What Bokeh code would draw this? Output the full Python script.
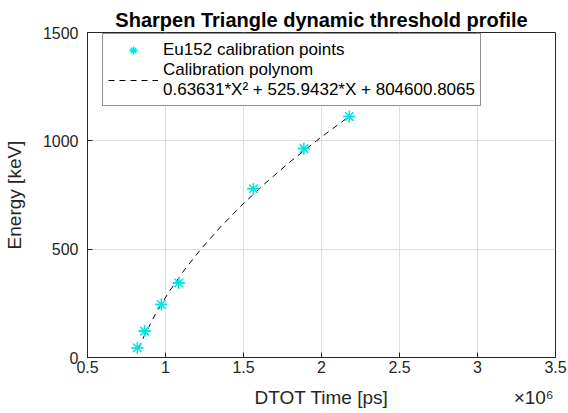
from bokeh.plotting import figure
from bokeh.models import Range1d, Legend, LegendItem, FixedTicker, LinearAxis
from bokeh.embed import file_html
from bokeh.resources import INLINE

# Calibration points (DTOT time in ps, energy in keV)
point_time = [0.819e6, 0.866e6, 0.973e6, 1.085e6, 1.563e6, 1.887e6, 2.178e6]
point_energy = [45, 121.78, 244.7, 344.28, 778.9, 964.1, 1112.1]

# Calibration polynomial curve
curve_energy = [40, 100, 200, 300, 400, 500, 600, 700, 800, 900, 1000, 1112]
curve_time = [0.8267e6, 0.8636e6, 0.9352e6, 1.0197e6, 1.1168e6, 1.2267e6,
              1.3492e6, 1.4846e6, 1.6326e6, 1.7934e6, 1.9669e6, 2.1763e6]

x_ticks = [0.5e6, 1e6, 1.5e6, 2e6, 2.5e6, 3e6, 3.5e6]
x_tick_labels = ["0.5", "1", "1.5", "2", "2.5", "3", "3.5"]
y_ticks = [0, 500, 1000, 1500]
# second row under the x axis: axis title and exponent note
x_note_pos = [2.0e6, 3.36e6]
x_note_text = ["DTOT Time [ps]", "\u00d710\u2076"]

AX = "#262626"
FONT = "Liberation Sans"

p = figure(width=568, height=413, output_backend="svg", toolbar_location=None,
           x_range=Range1d(0.5e6, 3.5e6), y_range=Range1d(0, 1500),
           min_border_left=87, min_border_right=13, min_border_top=32, min_border_bottom=56)

p.title.text = "Sharpen Triangle dynamic threshold profile"
p.title.align = "center"
p.title.text_font = FONT
p.title.text_font_size = "20px"
p.title.text_font_style = "bold"
p.title.text_color = "black"
p.title.standoff = 4
p.title.offset = 0

p.outline_line_color = AX
p.outline_line_width = 1
p.outline_line_alpha = 1

xax = p.xaxis[0]
yax = p.yaxis[0]
for ax in (xax, yax):
    ax.axis_line_color = AX
    ax.major_tick_line_color = AX
    ax.major_tick_in = 5
    ax.major_tick_out = 0
    ax.minor_tick_line_color = None
    ax.major_label_text_font = FONT
    ax.major_label_text_font_size = "16px"
    ax.major_label_text_color = AX
    ax.axis_label_text_font = FONT
    ax.axis_label_text_font_size = "19px"
    ax.axis_label_text_font_style = "normal"
    ax.axis_label_text_color = AX

xax.ticker = FixedTicker(ticks=x_ticks)
xax.major_label_overrides = {t: l for t, l in zip(x_ticks, x_tick_labels)}
yax.ticker = FixedTicker(ticks=y_ticks)
yax.axis_label = "Energy [keV]"
xax.major_label_standoff = 3
yax.major_label_standoff = 9
yax.axis_label_standoff = 15

note_axis = LinearAxis(ticker=FixedTicker(ticks=x_note_pos),
                       major_label_overrides={t: l for t, l in zip(x_note_pos, x_note_text)},
                       axis_line_color=None, major_tick_line_color=None,
                       minor_tick_line_color=None,
                       major_tick_in=0, major_tick_out=0,
                       major_label_standoff=11,
                       major_label_text_font=FONT, major_label_text_font_size="19px",
                       major_label_text_color=AX)
p.add_layout(note_axis, "below")

p.xgrid.grid_line_color = "#dedede"
p.ygrid.grid_line_color = "#dedede"

curve = p.line(curve_time, curve_energy, line_color="black", line_width=1, line_dash="6 5")
pts = p.scatter(point_time, point_energy, marker="asterisk", size=12, line_color="#00e5e5", line_width=1.5)
pts2 = p.scatter(point_time, point_energy, marker="dash", size=12, line_color="#00e5e5", line_width=1.5)

legend = Legend(items=[
    LegendItem(label="Eu152 calibration points", renderers=[pts, pts2]),
    LegendItem(label="Calibration polynom\n0.63631*X\u00b2 + 525.9432*X + 804600.8065", renderers=[curve]),
], location=(15, 251))
legend.label_text_font = FONT
legend.label_text_font_size = "17px"
legend.label_text_color = "black"
legend.label_height = 21
legend.border_line_color = AX
legend.border_line_width = 1
legend.background_fill_color = "white"
legend.background_fill_alpha = 1
legend.glyph_width = 50
legend.label_standoff = 5
legend.padding = 5
legend.spacing = 0
legend.margin = 0
p.add_layout(legend, "center")

open("out.html", "w").write(file_html(p, INLINE))
